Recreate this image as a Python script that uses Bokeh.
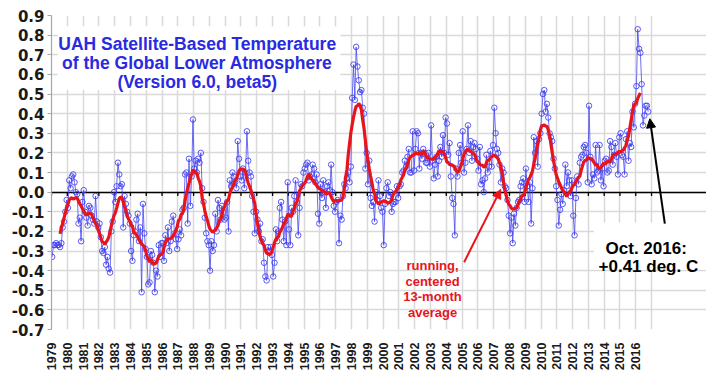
import numpy as np
from bokeh.plotting import figure
from bokeh.models import (Range1d, FixedTicker, Grid, Label, BoxAnnotation,
                          Arrow, NormalHead, NumeralTickFormatter, ColumnDataSource)
from bokeh.embed import file_html
from bokeh.resources import INLINE

# ---------------- data (monthly anomalies, deg C) ----------------
y1979 = [-0.33, -0.27, -0.27, -0.26, -0.27, -0.27, -0.28, -0.26, -0.18, -0.15, -0.10, -0.04]
y1980 = [-0.08, 0.06, 0.02, 0.08, 0.09, 0.05, 0.00, -0.01, -0.16, -0.13, -0.25, -0.05]
y1981 = [0.01, -0.10, -0.13, -0.17, -0.07, -0.08, -0.12, -0.14, -0.16, -0.02, -0.15, -0.18]
y1982 = [-0.16, -0.23, -0.30, -0.31, -0.28, -0.37, -0.33, -0.39, -0.41, -0.20, -0.15, 0.00]
y1983 = [-0.05, 0.03, 0.15, 0.09, 0.03, 0.04, -0.18, -0.02, -0.06, -0.10, -0.12, -0.16]
y1984 = [-0.30, -0.35, -0.22, -0.20, -0.14, -0.11, -0.25, -0.18, -0.51, -0.06, -0.21, -0.29]
y1985 = [-0.33, -0.47, -0.46, -0.30, -0.32, -0.36, -0.51, -0.40, -0.43, -0.27, -0.33, -0.26]
y1986 = [-0.26, -0.35, -0.22, -0.26, -0.18, -0.30, -0.25, -0.15, -0.12, -0.21, -0.24, -0.29]
y1987 = [-0.24, -0.19, -0.22, -0.09, -0.08, 0.09, 0.10, -0.16, 0.17, -0.07, 0.08, 0.37]
y1988 = [0.12, 0.16, 0.10, 0.17, 0.15, 0.20, 0.02, -0.05, -0.13, -0.21, -0.25, -0.27]
y1989 = [-0.40, -0.25, -0.30, -0.27, -0.11, -0.20, -0.04, -0.08, -0.14, -0.07, -0.10, -0.14]
y1990 = [-0.13, -0.05, -0.20, 0.06, 0.03, 0.10, 0.08, 0.05, 0.02, 0.26, 0.17, 0.08]
y1991 = [0.06, 0.12, 0.02, 0.10, 0.31, 0.16, 0.10, 0.08, -0.02, -0.10, -0.21, -0.10]
y1992 = [-0.14, -0.20, -0.16, -0.25, -0.24, -0.36, -0.43, -0.45, -0.28, -0.30, -0.28, -0.32]
y1993 = [-0.43, -0.36, -0.19, -0.25, -0.20, -0.08, -0.05, -0.14, -0.25, -0.15, -0.27, 0.05]
y1994 = [-0.19, -0.27, -0.08, -0.10, -0.02, 0.06, -0.05, -0.22, -0.08, 0.04, 0.03, 0.10]
y1995 = [0.12, 0.14, 0.15, 0.06, 0.08, 0.09, 0.14, 0.12, 0.05, 0.09, -0.11, -0.16]
y1996 = [0.04, -0.03, 0.06, 0.00, -0.08, 0.03, 0.05, 0.01, 0.14, 0.00, -0.07, -0.10]
y1997 = [-0.05, -0.04, -0.26, -0.12, -0.14, -0.02, 0.04, 0.02, 0.07, 0.10, 0.05, 0.13]
y1998 = [0.48, 0.65, 0.47, 0.74, 0.64, 0.57, 0.51, 0.52, 0.43, 0.40, 0.12, 0.20]
y1999 = [0.04, 0.16, -0.03, -0.07, -0.05, -0.15, 0.00, -0.04, 0.06, -0.02, -0.08, -0.10]
y2000 = [-0.27, -0.06, 0.02, 0.05, -0.02, 0.00, -0.10, -0.06, -0.05, -0.05, 0.03, -0.03]
y2001 = [0.03, 0.04, 0.10, 0.11, 0.16, 0.13, 0.18, 0.22, 0.10, 0.10, 0.31, 0.11]
y2002 = [0.22, 0.31, 0.30, 0.12, 0.20, 0.17, 0.22, 0.20, 0.15, 0.15, 0.20, 0.13]
y2003 = [0.34, 0.16, 0.07, 0.14, 0.18, 0.08, 0.16, 0.23, 0.18, 0.29, 0.20, 0.38]
y2004 = [0.35, 0.19, 0.25, 0.08, -0.03, -0.06, -0.22, 0.12, 0.08, 0.20, 0.24, 0.15]
y2005 = [0.31, 0.10, 0.15, 0.22, 0.34, 0.20, 0.26, 0.16, 0.23, 0.25, 0.22, 0.17]
y2006 = [0.11, 0.23, 0.04, 0.06, 0.00, 0.07, 0.19, 0.10, 0.13, 0.21, 0.13, 0.24]
y2007 = [0.43, 0.30, 0.22, 0.20, 0.14, 0.05, 0.12, 0.10, 0.03, 0.02, -0.04, -0.12]
y2008 = [-0.21, -0.13, -0.26, -0.11, -0.17, -0.08, -0.05, -0.04, 0.03, 0.05, 0.07, -0.05]
y2009 = [0.12, 0.03, -0.05, 0.05, -0.16, 0.02, 0.28, 0.20, 0.26, 0.13, 0.27, 0.30]
y2010 = [0.40, 0.50, 0.52, 0.41, 0.45, 0.38, 0.30, 0.28, 0.26, 0.17, 0.12, 0.03]
y2011 = [-0.04, -0.17, -0.09, -0.01, -0.06, 0.01, 0.14, 0.03, 0.10, 0.06, -0.02, 0.06]
y2012 = [-0.12, -0.22, -0.03, 0.08, 0.04, 0.15, 0.18, 0.19, 0.23, 0.24, 0.20, 0.05]
y2013 = [0.44, 0.18, 0.04, 0.09, 0.07, 0.24, 0.10, 0.11, 0.24, 0.06, 0.12, 0.03]
y2014 = [0.16, 0.17, 0.10, 0.11, 0.26, 0.23, 0.14, 0.19, 0.25, 0.18, 0.09, 0.28]
y2015 = [0.30, 0.19, 0.18, 0.09, 0.27, 0.31, 0.16, 0.25, 0.23, 0.41, 0.33, 0.45]
y2016 = [0.54, 0.83, 0.73, 0.71, 0.55, 0.34, 0.39, 0.44, 0.44, 0.41]

years = list(range(1979, 2017))            # x tick labels
grid_years = list(range(1979, 2018))
y_ticks = [-0.7, -0.6, -0.5, -0.4, -0.3, -0.2, -0.1, 0.0, 0.1, 0.2, 0.3, 0.4, 0.5, 0.6, 0.7, 0.8, 0.9]

monthly = [y1979, y1980, y1981, y1982, y1983, y1984, y1985, y1986, y1987, y1988,
           y1989, y1990, y1991, y1992, y1993, y1994, y1995, y1996, y1997, y1998,
           y1999, y2000, y2001, y2002, y2003, y2004, y2005, y2006, y2007, y2008,
           y2009, y2010, y2011, y2012, y2013, y2014, y2015, y2016]

t, v = [], []
for yr, vals in zip(years, monthly):
    for m, val in enumerate(vals):
        t.append(yr + (m + 0.5) / 12.0)
        v.append(val)
t = np.array(t)
v = np.array(v)
# running, centered 13-month average
rm = np.convolve(v, np.ones(13) / 13.0, mode="valid")
trm = t[6:-6]

BLUE = "#3d3df2"
RED = "#e8141c"
GRID = "#d9d9d9"
X0, X1 = 1979, 2017

p = figure(width=706, height=376, x_range=Range1d(1979, 2020.48), y_range=Range1d(-0.7, 0.9),
           output_backend="svg", toolbar_location=None,
           min_border_left=51, min_border_right=0, min_border_top=15, min_border_bottom=47)
p.outline_line_color = None
p.background_fill_color = "white"
p.border_fill_color = "white"

# grid (bounded to the chart box 1979..2017)
p.xgrid.ticker = FixedTicker(ticks=grid_years)
p.ygrid.ticker = FixedTicker(ticks=y_ticks)
p.ygrid.bounds = (X0, X1)
p.xgrid.grid_line_color = GRID
p.ygrid.grid_line_color = GRID
p.xgrid.grid_line_width = 1.5
p.ygrid.grid_line_width = 1.5

# black zero line
zero_line = Grid(dimension=1, ticker=FixedTicker(ticks=[0.0]), bounds=(X0, X1),
                 grid_line_color="black", grid_line_width=1.6)
p.add_layout(zero_line)

# x axis (bottom labels)
p.xaxis.ticker = FixedTicker(ticks=years)
p.xaxis.axis_line_color = None
p.xaxis.major_tick_line_color = None
p.xaxis.minor_tick_line_color = None
p.xaxis.major_label_orientation = np.pi / 2
p.xaxis.major_label_text_font = "Liberation Sans"
p.xaxis.major_label_text_font_style = "bold"
p.xaxis.major_label_text_font_size = "12.5px"
p.xaxis.major_label_text_color = "#1a1a1a"
p.xaxis.major_label_standoff = 7

# y axis
p.yaxis.ticker = FixedTicker(ticks=y_ticks)
p.yaxis.formatter = NumeralTickFormatter(format="0.0")
p.yaxis.axis_line_color = "#a6a6a6"
p.yaxis.axis_line_width = 1.2
p.yaxis.major_tick_line_color = "#a6a6a6"
p.yaxis.major_tick_out = 4
p.yaxis.major_tick_in = 0
p.yaxis.minor_tick_line_color = None
p.yaxis.major_label_text_font = "DejaVu Sans"
p.yaxis.major_label_text_font_style = "bold"
p.yaxis.major_label_text_font_size = "15px"
p.yaxis.major_label_text_color = "#1a1a1a"
p.yaxis.major_label_standoff = 3

# tick marks on the zero line
p.segment(x0=grid_years, y0=[0] * len(grid_years), x1=grid_years, y1=[-0.02] * len(grid_years),
          line_color="black", line_width=1.3)

# monthly series
src = ColumnDataSource(dict(t=t, v=v))
p.line("t", "v", source=src, line_color=BLUE, line_width=1, line_alpha=0.75)
p.scatter("t", "v", source=src, marker="circle", size=5.5, line_color=BLUE,
          line_width=1, fill_color=None, line_alpha=0.85)

# running mean
p.line(trm, rm, line_color=RED, line_width=3.2)

# title box
p.add_layout(BoxAnnotation(left=1979.4, right=1997.3, bottom=0.52, top=0.845,
                           fill_color="white", fill_alpha=1.0, line_color=None))
title_lines = ["UAH Satellite-Based Temperature", "of the Global Lower Atmosphere",
               "(Version 6.0, beta5)"]
for txt, yy in zip(title_lines, [0.756, 0.658, 0.559]):
    p.add_layout(Label(x=1988.23, y=yy, text=txt, text_align="center", text_baseline="alphabetic",
                       text_font="Liberation Sans", text_font_style="bold",
                       text_font_size="17.5px", text_color="#2a2ae0"))

# running mean note
note_lines = ["running,", "centered", "13-month", "average"]
for txt, yy in zip(note_lines, [-0.376, -0.455, -0.534, -0.613]):
    p.add_layout(Label(x=2003.13, y=yy, text=txt, text_align="center", text_baseline="alphabetic",
                       text_font="Liberation Sans", text_font_style="bold",
                       text_font_size="13px", text_color=RED))
p.add_layout(Arrow(end=NormalHead(size=9, fill_color=RED, line_color=RED),
                   x_start=2005.13, y_start=-0.357, x_end=2007.45, y_end=0.014,
                   line_color=RED, line_width=2))

# latest value note
p.add_layout(BoxAnnotation(left=2013.35, right=2020.48, bottom=-0.395, top=-0.155,
                           fill_color="white", fill_alpha=1.0, line_color=None))
for txt, xx, yy in zip(["Oct. 2016:", "+0.41 deg. C"], [2016.66, 2016.80], [-0.285, -0.379]):
    p.add_layout(Label(x=xx, y=yy, text=txt, text_align="center", text_baseline="alphabetic",
                       text_font="Liberation Sans", text_font_style="bold",
                       text_font_size="17px", text_color="black"))
p.add_layout(Arrow(end=NormalHead(size=9, fill_color="black", line_color="black"),
                   x_start=2017.84, y_start=-0.161, x_end=2016.89, y_end=0.374,
                   line_color="black", line_width=2))

open("out.html", "w").write(file_html(p, INLINE))
